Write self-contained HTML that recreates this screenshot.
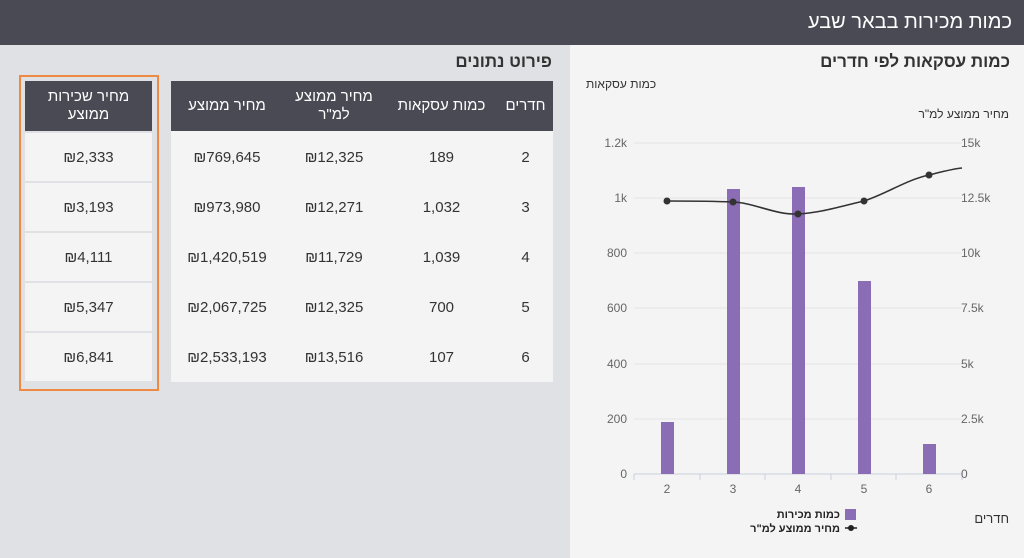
<!DOCTYPE html>
<html><head><meta charset="utf-8"><style>
*{margin:0;padding:0;box-sizing:border-box}
body{width:1024px;height:558px;overflow:hidden;font-family:"Liberation Sans","Noto Sans CJK SC",sans-serif;background:#dfe1e5;position:relative;color:#333}
.hdr{position:absolute;left:0;top:0;width:1024px;height:45px;background:#4a4a55;color:#fff;font-size:20px;direction:rtl;padding-right:12px;line-height:45px}
.right{position:absolute;left:570px;top:45px;width:454px;height:513px;background:#f4f4f4}
.t{position:absolute;font-size:17px;font-weight:bold;color:#333;direction:rtl}
.c{position:absolute;display:flex;align-items:center;justify-content:center;font-size:15px;color:#333;text-align:center;background:#f4f4f4}
.h{position:absolute;display:flex;align-items:center;justify-content:center;font-size:15px;color:#fff;background:#4a4a55;text-align:center;line-height:18px;direction:rtl}
</style></head><body>
<div class="hdr">כמות מכירות בבאר שבע</div>
<div class="t" style="right:472px;top:52px">פירוט נתונים</div>
<div style="position:absolute;left:171px;top:81px;width:382px;height:301px;background:#f4f4f4"></div>
<div style="position:absolute;left:19px;top:75px;width:140px;height:316px;border:2px solid #ef8a45"></div>
<div id="tbl"></div>
<div class="right">
<div class="t" style="right:14px;top:7px">כמות עסקאות לפי חדרים</div>
<div style="position:absolute;left:16px;top:32px;font-size:12px;direction:rtl">כמות עסקאות</div>
<div style="position:absolute;right:15px;top:62px;font-size:12px;direction:rtl">מחיר ממוצע למ"ר</div>
<div style="position:absolute;right:15px;top:466px;font-size:13px;direction:rtl">חדרים</div>
</div>
<svg style="position:absolute;left:0;top:0" width="1024" height="558" font-family="Liberation Sans,sans-serif">
<g stroke="#e4e4e4" stroke-width="1">
<line x1="634" x2="962" y1="143" y2="143"/><line x1="634" x2="962" y1="198" y2="198"/><line x1="634" x2="962" y1="253" y2="253"/><line x1="634" x2="962" y1="308" y2="308"/><line x1="634" x2="962" y1="364" y2="364"/><line x1="634" x2="962" y1="419" y2="419"/>
</g>
<g stroke="#ccd0e0"><line x1="634" x2="962" y1="474" y2="474"/>
<line x1="634" x2="634" y1="474" y2="480"/><line x1="700" x2="700" y1="474" y2="480"/><line x1="765" x2="765" y1="474" y2="480"/><line x1="831" x2="831" y1="474" y2="480"/><line x1="896" x2="896" y1="474" y2="480"/><line x1="962" x2="962" y1="474" y2="480"/></g>
<g font-size="12" fill="#666" text-anchor="end">
<text x="627" y="147">1.2k</text><text x="627" y="202">1k</text><text x="627" y="257">800</text><text x="627" y="312">600</text><text x="627" y="368">400</text><text x="627" y="423">200</text><text x="627" y="478">0</text></g>
<g font-size="12" fill="#666" text-anchor="start">
<text x="961" y="147">15k</text><text x="961" y="202">12.5k</text><text x="961" y="257">10k</text><text x="961" y="312">7.5k</text><text x="961" y="368">5k</text><text x="961" y="423">2.5k</text><text x="961" y="478">0</text></g>
<g font-size="12" fill="#666" text-anchor="middle">
<text x="667" y="493">2</text><text x="733" y="493">3</text><text x="798" y="493">4</text><text x="864" y="493">5</text><text x="929" y="493">6</text></g>
<g fill="#8b6db5">
<rect x="661" y="422" width="13" height="52"/><rect x="727" y="189" width="13" height="285"/><rect x="792" y="187" width="13" height="287"/><rect x="858" y="281" width="13" height="193"/><rect x="923" y="444" width="13" height="30"/></g>
<path d="M667,201 C690,201 710,201 733,202 C755,203 775,215 798,214 C820,213 842,206 864,201 C886,194 906,180 929,175 C945,171 952,169 962,168" fill="none" stroke="#333" stroke-width="1.6"/>
<g fill="#333"><circle cx="667" cy="201" r="3.5"/><circle cx="733" cy="202" r="3.5"/><circle cx="798" cy="214" r="3.5"/><circle cx="864" cy="201" r="3.5"/><circle cx="929" cy="175" r="3.5"/></g>
<rect x="845" y="509" width="11" height="11" fill="#8b6db5"/>
<text x="840" y="518" font-size="11" font-weight="bold" fill="#222" text-anchor="end">כמות מכירות</text>
<line x1="845" x2="857" y1="528" y2="528" stroke="#222" stroke-width="1.5"/><circle cx="851" cy="528" r="3" fill="#222"/>
<text x="840" y="532" font-size="11" font-weight="bold" fill="#222" text-anchor="end">מחיר ממוצע למ"ר</text>
</svg>
<script>
var d=[["2","189","₪12,325","₪769,645","₪2,333"],["3","1,032","₪12,271","₪973,980","₪3,193"],["4","1,039","₪11,729","₪1,420,519","₪4,111"],["5","700","₪12,325","₪2,067,725","₪5,347"],["6","107","₪13,516","₪2,533,193","₪6,841"]];
var cols=[[498,55],[385,113],[283,102],[171,112],[25,127]];
var hd=["חדרים","כמות עסקאות","מחיר ממוצע<br>למ\"ר","מחיר ממוצע","מחיר שכירות<br>ממוצע"];
var s="";
s+='<div class="h" style="left:171px;top:81px;width:382px;height:50px"></div>';
s+='<div class="h" style="left:25px;top:81px;width:127px;height:50px"></div>';
for(var j=0;j<5;j++){s+='<div class="h" style="left:'+cols[j][0]+'px;top:81px;width:'+cols[j][1]+'px;height:50px;background:none">'+hd[j]+'</div>';}
for(var i=0;i<5;i++){var y=133+i*50;
s+='<div class="c" style="left:171px;top:'+y+'px;width:382px;height:48px"></div>';
for(var j=0;j<5;j++){s+='<div class="c" style="left:'+cols[j][0]+'px;top:'+y+'px;width:'+cols[j][1]+'px;height:48px;'+(j==4?'':'background:none')+'">'+d[i][j]+'</div>';}}
document.getElementById("tbl").innerHTML=s;
</script>
</body></html>
